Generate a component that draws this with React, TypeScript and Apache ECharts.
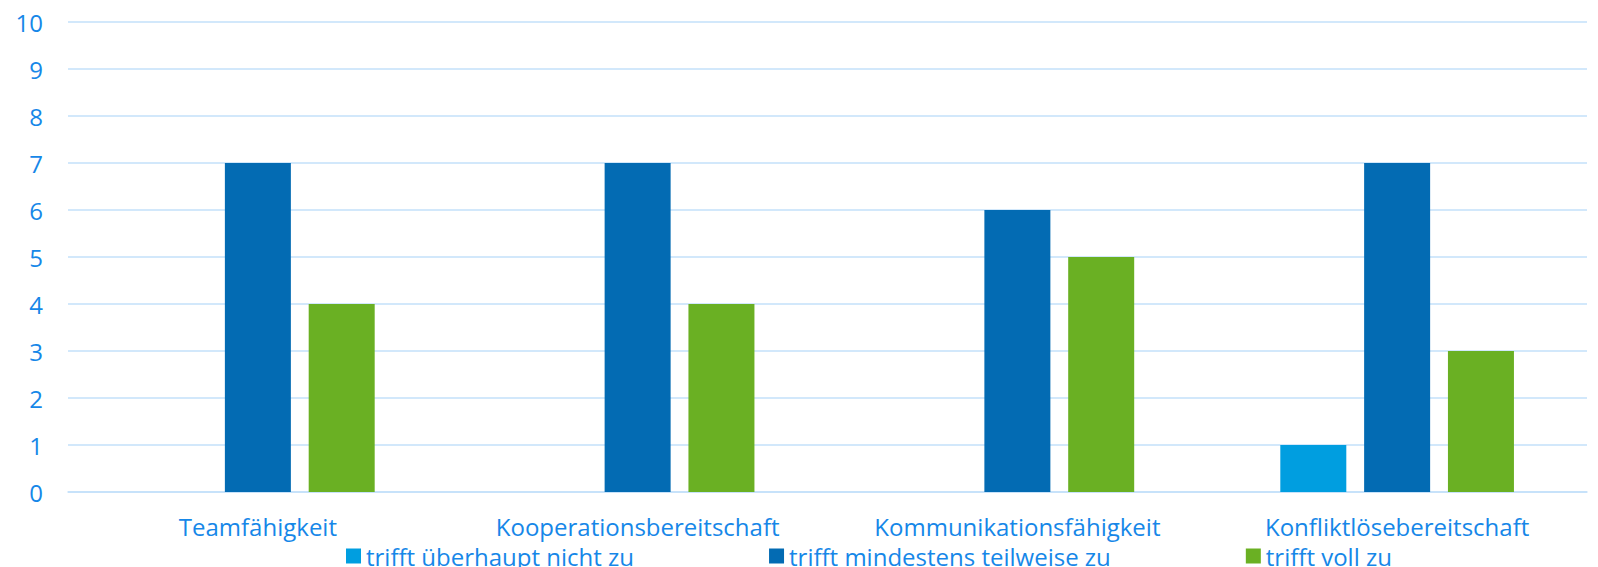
import React, { useEffect, useRef } from "react";
import * as echarts from "echarts";

const categories = ["Teamfähigkeit", "Kooperationsbereitschaft", "Kommunikationsfähigkeit", "Konfliktlösebereitschaft"];
const seriesNames = ["trifft überhaupt nicht zu", "trifft mindestens teilweise zu", "trifft voll zu"];
const valuesNichtZu = [0, 0, 0, 1];
const valuesTeilweise = [7, 7, 6, 7];
const valuesVoll = [4, 4, 5, 3];
const colors = ["#009EE0", "#036BB3", "#6AB023"];

const labelColor = "#1687E8";
const gridColor = "#C3E0FA";
const font = "'Open Sans', sans-serif";

export default function App() {
  const ref = useRef<HTMLDivElement>(null);
  useEffect(() => {
    if (!ref.current) return;
    const chart = echarts.init(ref.current, undefined, { renderer: "svg" });
    const data = [valuesNichtZu, valuesTeilweise, valuesVoll];
    chart.setOption({
      animation: false,
      backgroundColor: "#ffffff",
      textStyle: { fontFamily: font },
      grid: { left: 68, right: 11, top: 22, bottom: 75, containLabel: false },
      legend: {
        left: 341,
        top: 539,
        itemWidth: 15,
        itemHeight: 15,
        itemGap: 135,
        icon: "rect",
        textStyle: { color: labelColor, fontSize: 24, fontFamily: font, padding: [0, 0, 0, 0] },
        data: seriesNames,
      },
      xAxis: {
        type: "category",
        data: categories,
        axisLine: { show: true, lineStyle: { color: gridColor, width: 1.5 } },
        axisTick: { show: false },
        axisLabel: { color: labelColor, fontSize: 24, fontFamily: font, margin: 22, interval: 0 },
      },
      yAxis: {
        type: "value",
        min: 0,
        max: 10,
        interval: 1,
        axisLine: { show: false },
        axisTick: { show: false },
        axisLabel: { color: labelColor, fontSize: 24, fontFamily: font, margin: 25 },
        splitLine: { show: true, lineStyle: { color: gridColor, width: 1.5 } },
      },
      series: seriesNames.map((name, i) => ({
        name,
        type: "bar",
        data: data[i],
        barWidth: 66,
        barGap: "27%",
        itemStyle: { color: colors[i] },
      })),
    });
    return () => chart.dispose();
  }, []);
  return (
    <div
      ref={ref}
      style={{ position: "fixed", left: 0, top: 0, width: 1598, height: 567, background: "#fff" }}
    />
  );
}
